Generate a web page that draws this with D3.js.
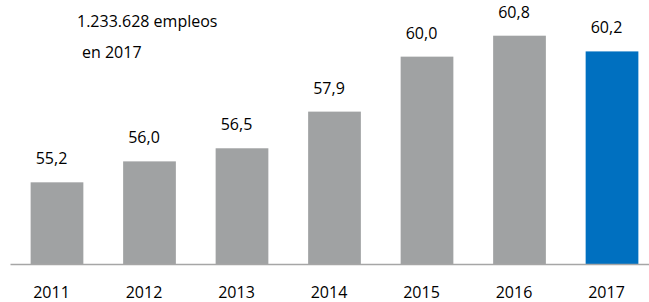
<!DOCTYPE html>
<html>
<head>
<meta charset="utf-8">
<script src="https://cdn.jsdelivr.net/npm/d3@7"></script>
<style>
  body { margin: 0; background: #fff; }
  text { font-family: "Open Sans", "Liberation Sans", Arial, sans-serif; fill: #000; }
</style>
</head>
<body>
<div id="chart"></div>
<script>
var w = 649;
var h = 302;

var years = ["2011", "2012", "2013", "2014", "2015", "2016", "2017"];
var values = [55.2, 56.0, 56.5, 57.9, 60.0, 60.8, 60.2];
var valueLabels = ["55,2", "56,0", "56,5", "57,9", "60,0", "60,8", "60,2"];
var noteLines = ["1.233.628 empleos", "en 2017"];

var svg = d3.select("#chart")
	.append("svg")
	.attr("width", w)
	.attr("height", h);

var baseY = 264;

var xScale = d3.scaleBand()
	.domain(years)
	.range([10, 659])
	.paddingInner(0.43)
	.paddingOuter(0.223);

var yScale = d3.scaleLinear()
	.domain([52.08, 60.8])
	.range([baseY, 35.7]);

// bars
svg.selectAll("rect.bar")
	.data(values)
	.enter()
	.append("rect")
	.attr("class", "bar")
	.attr("x", function(d, i) { return xScale(years[i]); })
	.attr("y", function(d) { return yScale(d); })
	.attr("width", xScale.bandwidth())
	.attr("height", function(d) { return baseY - yScale(d); })
	.attr("fill", function(d, i) { return i === years.length - 1 ? "#0070C0" : "#A0A2A3"; });

// value labels
svg.selectAll("text.val")
	.data(values)
	.enter()
	.append("text")
	.attr("class", "val")
	.attr("x", function(d, i) { return xScale(years[i]) + xScale.bandwidth() / 2 - 5.5; })
	.attr("y", function(d) { return yScale(d) - 18; })
	.attr("text-anchor", "middle")
	.style("font-size", "16px")
	.text(function(d, i) { return valueLabels[i]; });

// x axis
var xAxis = d3.axisBottom(xScale).tickSize(0).tickPadding(0);
var gx = svg.append("g")
	.attr("transform", "translate(0," + baseY + ")")
	.call(xAxis);
gx.select(".domain")
	.attr("stroke", "#A6A6A6")
	.attr("stroke-width", 1.5);
gx.selectAll(".tick text")
	.attr("x", -5.5)
	.attr("y", 34)
	.attr("dy", 0)
	.style("font-size", "16px")
	.style("font-family", "'Open Sans', 'Liberation Sans', Arial, sans-serif")
	.attr("fill", "#000");

// note
svg.append("text")
	.attr("x", 77)
	.attr("y", 27)
	.style("font-size", "16px")
	.text(noteLines[0]);
svg.append("text")
	.attr("x", 82)
	.attr("y", 58)
	.style("font-size", "16px")
	.text(noteLines[1]);
</script>
</body>
</html>
